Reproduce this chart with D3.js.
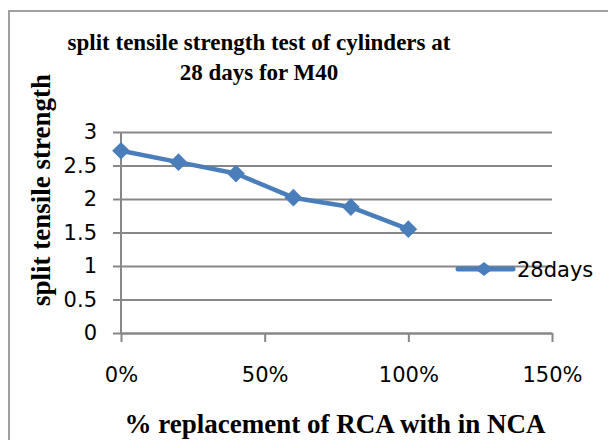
<!DOCTYPE html>
<html>
<head>
<meta charset="utf-8">
<script src="https://cdnjs.cloudflare.com/ajax/libs/d3/7.8.5/d3.min.js"></script>
<style>
  body { margin: 0; background: #fff; }
  svg { display: block; }
</style>
</head>
<body>
<svg width="608" height="440"></svg>
<script>
// data
var replacement = [0, 0.2, 0.4, 0.6, 0.8, 1.0];
var strength28 = [2.72, 2.55, 2.38, 2.02, 1.88, 1.55];
var yTicks = [0, 0.5, 1, 1.5, 2, 2.5, 3];
var xTicks = [0, 0.5, 1, 1.5];
var seriesName = "28days";

var svg = d3.select("svg");
var blue = "#4a7ebb", grid = "#878787";
var sans = "'DejaVu Sans', sans-serif";
var serif = "'Liberation Serif', 'Times New Roman', serif";

var x = d3.scaleLinear().domain([0, 1.5]).range([121, 552]);
var y = d3.scaleLinear().domain([0, 3]).range([333, 132]);

// outer frame (only top and left edges show)
svg.append("path")
  .attr("d", "M9,440V11H608")
  .attr("fill", "none")
  .attr("stroke", "#a0a0a0")
  .attr("stroke-width", 2);

// gridlines + left ticks + labels in one axis
var yAxis = svg.append("g")
  .attr("transform", "translate(" + x(1.5) + ",0)")
  .call(d3.axisLeft(y)
    .tickValues(yTicks)
    .tickSize(x(1.5) - 113)
    .tickPadding(16)
    .tickFormat(d3.format("")));
yAxis.select(".domain").remove();
yAxis.selectAll("line").attr("stroke", grid).attr("stroke-width", 2);
yAxis.selectAll("text")
  .attr("fill", "#000")
  .style("font-family", sans)
  .style("font-size", "21px");

// vertical axis line
svg.append("line")
  .attr("x1", x(0)).attr("x2", x(0))
  .attr("y1", y(3)).attr("y2", y(0))
  .attr("stroke", grid).attr("stroke-width", 2);

var xAxis = svg.append("g")
  .attr("transform", "translate(0," + y(0) + ")")
  .call(d3.axisBottom(x)
    .tickValues(xTicks)
    .tickSizeInner(9)
    .tickSizeOuter(0)
    .tickPadding(25)
    .tickFormat(d3.format(".0%")));
xAxis.selectAll("line, path").attr("stroke", grid).attr("stroke-width", 2);
xAxis.selectAll("text")
  .attr("fill", "#000")
  .style("font-family", sans)
  .style("font-size", "21px");

// series
var pts = replacement.map(function(d, i) { return [d, strength28[i]]; });
var line = d3.line()
  .x(function(d) { return x(d[0]); })
  .y(function(d) { return y(d[1]); });

svg.append("path")
  .datum(pts)
  .attr("d", line)
  .attr("fill", "none")
  .attr("stroke", blue)
  .attr("stroke-width", 4.5)
  .attr("stroke-linejoin", "round");

var diamond = d3.symbol().type(d3.symbolDiamond2).size(200);
svg.selectAll(".pt")
  .data(pts)
  .enter()
  .append("path")
  .attr("class", "pt")
  .attr("d", diamond)
  .attr("transform", function(d) {
    return "translate(" + x(d[0]) + "," + y(d[1]) + ")";
  })
  .attr("fill", blue);

// legend
svg.append("line")
  .attr("x1", 458).attr("x2", 513)
  .attr("y1", 269).attr("y2", 269)
  .attr("stroke", blue).attr("stroke-width", 5)
  .attr("stroke-linecap", "round");
svg.append("path")
  .attr("d", d3.symbol().type(d3.symbolDiamond2).size(200))
  .attr("transform", "translate(484,269) scale(1,0.8)")
  .attr("fill", blue);
svg.append("text")
  .attr("x", 517).attr("y", 277)
  .style("font-family", sans)
  .style("font-size", "21px")
  .text(seriesName);

// titles
var title = svg.append("text")
  .attr("text-anchor", "middle")
  .style("font-family", serif)
  .style("font-weight", "bold")
  .style("font-size", "23px");
title.append("tspan").attr("x", 259).attr("y", 50)
  .text("split tensile strength test of cylinders at");
title.append("tspan").attr("x", 259).attr("y", 80)
  .text("28 days for M40");

svg.append("text")
  .attr("transform", "translate(50,190) rotate(-90)")
  .attr("text-anchor", "middle")
  .style("font-family", serif)
  .style("font-weight", "bold")
  .style("font-size", "27px")
  .text("split tensile strength");

svg.append("text")
  .attr("x", 335).attr("y", 433)
  .attr("text-anchor", "middle")
  .style("font-family", serif)
  .style("font-weight", "bold")
  .style("font-size", "27px")
  .text("% replacement of RCA with in NCA");
</script>
</body>
</html>
